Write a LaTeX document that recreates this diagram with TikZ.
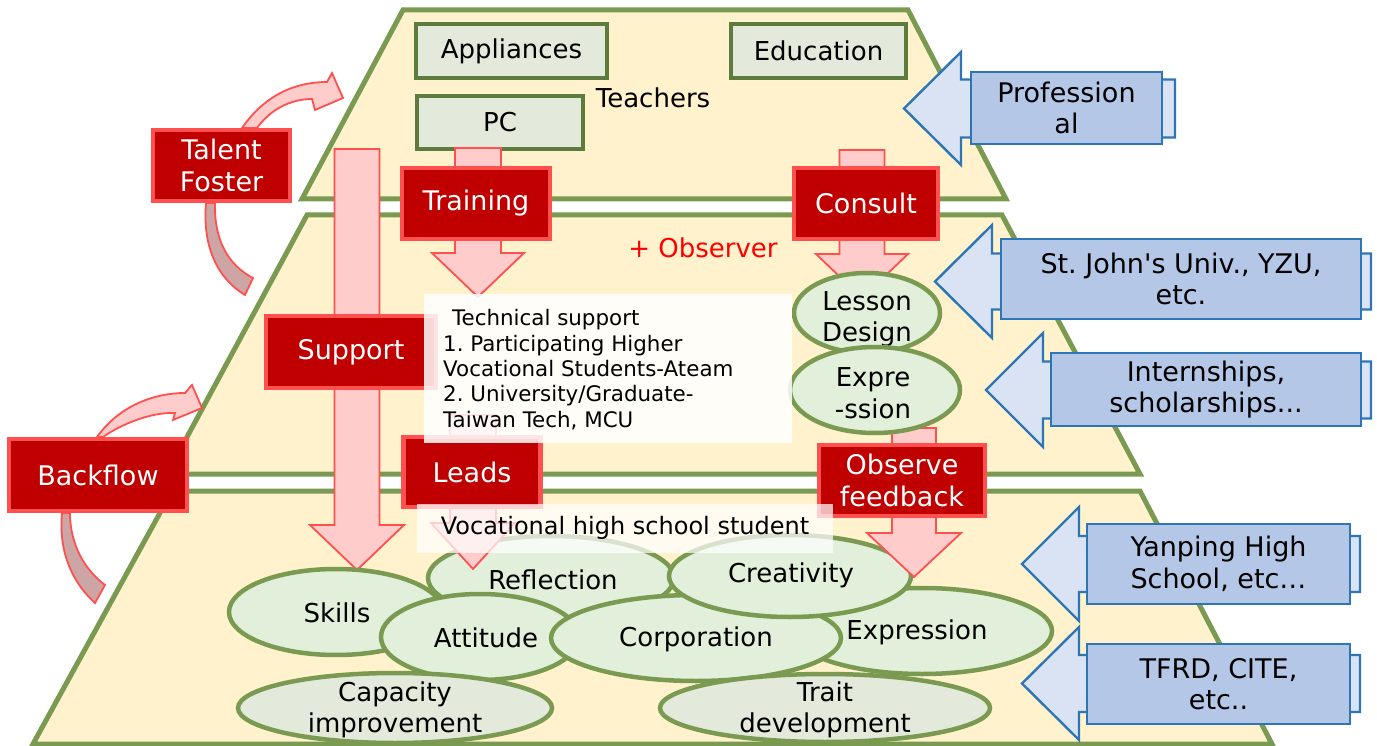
\documentclass[tikz,border=0pt]{standalone}
\usepackage{fontspec}
\newfontfamily\dvs{DejaVu Sans}
\setmainfont{DejaVu Sans}
\frenchspacing
\usetikzlibrary{shapes.geometric}
\definecolor{tierfill}{HTML}{FFF2CC}
\definecolor{tierline}{HTML}{7A9A52}
\definecolor{gbfill}{HTML}{E4EADB}
\definecolor{gbline}{HTML}{5E7B3E}
\definecolor{redfill}{HTML}{C00000}
\definecolor{redline}{HTML}{FF5050}
\definecolor{pinkfill}{HTML}{FFCCCC}
\definecolor{darkpink}{HTML}{CDA5A5}
\definecolor{blueline}{HTML}{2E75B6}
\definecolor{bluelight}{HTML}{DAE3F3}
\definecolor{blueboxfill}{HTML}{B4C7E7}
\definecolor{ellfill}{HTML}{E2EFDA}
\definecolor{ellfillb}{HTML}{E4EADB}
\newcommand\fA{\dvs\frenchspacing\fontsize{26}{31.5}\selectfont}
\newcommand\fR{\dvs\frenchspacing\fontsize{27}{31.5}\selectfont}
\newcommand\fB{\dvs\frenchspacing\fontsize{21.4}{25.2}\selectfont}
\newcommand\fC{\dvs\frenchspacing\fontsize{24}{28}\selectfont}
\newcommand\pinkdown[6]{%
  \draw[pinkarrow] (#1-#5,#2) -- (#1+#5,#2) -- (#1+#5,#3) -- (#1+#6,#3) -- (#1,#4) -- (#1-#6,#3) -- (#1-#5,#3) -- cycle;}
\newcommand\bluearr[6]{%
  \draw[bluearrow] (#1,#2) -- (#3,#2-#4) -- (#3,#2-#5) -- (#6,#2-#5) -- (#6,#2+#5) -- (#3,#2+#5) -- (#3,#2+#4) -- cycle;}
\tikzset{
  tier/.style={fill=tierfill, draw=tierline, line width=5pt, line join=miter},
  wh/.style 2 args={minimum width=#1pt, minimum height=#2pt},
  greenbox/.style={draw=gbline, fill=gbfill, line width=4.5pt, font=\fA, inner sep=0pt},
  redbox/.style={draw=redline, fill=redfill, line width=4.5pt, text=white, font=\fR, align=center, inner sep=0pt},
  pinkarrow/.style={fill=pinkfill, draw=redline, line width=1.8pt, line join=miter},
  backarrow/.style={fill=darkpink, draw=redline, line width=1.8pt, line join=miter},
  bluearrow/.style={fill=bluelight, draw=blueline, line width=2.4pt, line join=miter},
  bluebox/.style={fill=blueboxfill, draw=blueline, line width=2.4pt, font=\fR, align=center, inner sep=0pt},
  ell/.style={ellipse, draw=tierline, fill=ellfill, line width=4.5pt, inner sep=0pt},
  ellb/.style={ell, fill=ellfillb},
  etext/.style={font=\fA, align=center, inner sep=0pt},
  plain/.style={font=\fA, inner sep=0pt},
  tsline/.style={font=\fB, anchor=base west, inner sep=0pt},
  veil/.style={fill=white, draw=none, inner sep=0pt},
}
\begin{document}
\begin{tikzpicture}[x=1pt,y=-1pt]
\useasboundingbox (0,0) rectangle (1377,746);
% tiers
\draw[tier] (403,10) -- (908,10) -- (1006,199) -- (302,199) -- cycle;
\draw[tier] (307,215) -- (1002,215) -- (1140,474) -- (167,474) -- cycle;
\draw[tier] (172,491) -- (1140,491) -- (1272,744) -- (33,744) -- cycle;
% top tier boxes
\node[greenbox, wh={191}{54}] (appl) at (511.5,51) {Appliances};
\node[greenbox, wh={175}{54}] (educ) at (818.5,51) {Education};
\node[greenbox, wh={166}{53}] (pc) at (500,122.5) {PC};
\node[plain] (teach) at (653,98) {Teachers};
% pink arrows
\pinkdown{357}{149}{525}{570}{22.5}{47}
\pinkdown{478}{148}{253}{297}{23}{46}
\pinkdown{862}{150}{254}{298}{22.5}{46}
% curved arrows
\draw[backarrow] (206,203) .. controls (202,250) and (220,280) .. (245,295) -- (253,278) .. controls (228,265) and (214,240) .. (215,203) -- cycle;
\draw[pinkarrow] (242,128) .. controls (265,95) and (295,82) .. (327,82) -- (332,73) -- (343,98) -- (315,110) -- (312,99) .. controls (290,99) and (270,110) .. (257,128) -- cycle;
\draw[backarrow] (62,513) .. controls (58,555) and (75,585) .. (95,603) -- (105,585) .. controls (85,570) and (70,545) .. (70,513) -- cycle;
\draw[pinkarrow] (97,437) .. controls (120,405) and (155,393) .. (185,393) -- (192,385) -- (202,408) -- (173,420) -- (175,413) .. controls (150,412) and (120,425) .. (103,437) -- cycle;
% red boxes
\node[redbox, wh={137}{71}] (talent) at (221.5,165.5) {Talent\\Foster};
\node[redbox, wh={148}{71}] (train) at (476,203.5) {Training};
\node[redbox, wh={144}{71}] (consult) at (866,203.5) {Consult};
\node[redbox, wh={170}{72}] (support) at (351,352) {Support};
\node[redbox, wh={178}{72}] (backflow) at (98,475) {Backflow};
\node[font=\fA, text={red}, inner sep=0pt] (observer) at (703,248) {+ Observer};
% blue arrows and boxes
\bluearr{904}{108.5}{961}{56.5}{29}{1175}
\node[bluebox, wh={191}{72}] (prof) at (1066.5,108) {Profession\\al};
\bluearr{935}{281.5}{992}{56.5}{28}{1371}
\node[bluebox, wh={360}{80}] (stjohn) at (1181,279) {St. John's Univ., YZU,\\etc.};
\bluearr{986}{390}{1043}{57}{28.5}{1371}
\node[bluebox, wh={310}{73}] (intern) at (1206,389.5) {Internships,\\scholarships...};
\bluearr{1022}{564}{1079}{57}{28}{1360}
\node[bluebox, wh={263}{80}] (yanping) at (1218.5,564) {Yanping High\\School, etc…};
\bluearr{1022}{683.5}{1079}{56.5}{28.5}{1360}
\node[bluebox, wh={263}{80}] (tfrd) at (1218.5,684) {TFRD, CITE,\\etc..};
% bottom ellipses
\node[ell, wh={260}{86}] (expr) at (922,631) {};
\node[etext] (expr-t) at (917,632) {Expression};
\node[ell, wh={214}{86}] (skills) at (336,612) {};
\node[etext] (skills-t) at (337,613) {Skills};
\node[ell, wh={246}{84}] (refl) at (551,578) {};
\node[etext] (refl-t) at (553,580) {Reflection};
\node[ell, wh={198}{86}] (att) at (480,637) {};
\node[etext] (att-t) at (486,638) {Attitude};
\node[ell, wh={290}{86}] (corp) at (696,638) {};
\node[etext] (corp-t) at (696,639) {Corporation};
\node[ell, wh={242}{82}] (creat) at (790,576) {};
\node[etext] (creat-t) at (791,575) {Creativity};
\node[ellb, wh={314}{70}] (cap) at (395,708) {};
\node[etext] (cap-t) at (395,710) {Capacity\\improvement};
\node[ellb, wh={330}{68}] (trait) at (825,708) {};
\node[etext] (trait-t) at (825,710) {Trait\\development};
% lower pink arrows
\pinkdown{473}{415}{523}{569}{23}{42}
\pinkdown{914}{428}{533}{577}{22}{47}
% middle ellipses
\node[ell, wh={146}{80}] (lesson) at (867,313) {};
\node[etext] (lesson-t) at (867,319) {Lesson\\Design};
\node[ell, wh={170}{86}] (expre) at (875,390) {};
\node[etext] (expre-t) at (873,393) {Expre\\-ssion};
% red boxes lower
\node[redbox, wh={137}{70}] (leads) at (472,472) {Leads};
\node[redbox, wh={166}{71}] (obsfb) at (902,480.5) {Observe\\feedback};
% technical support veil
\fill[veil, fill opacity=0.85] (424,294) rectangle (792,443);
\node[tsline] (ts1) at (452,326) {Technical support};
\node[tsline] (ts2) at (443,351) {1. Participating Higher};
\node[tsline] (ts3) at (443,376) {Vocational Students-Ateam};
\node[tsline] (ts4) at (443,401) {2. University/Graduate-};
\node[tsline] (ts5) at (443,427) {Taiwan Tech, MCU};
% vocational veil
\fill[veil, fill opacity=0.72] (417,504) rectangle (833,553);
\node[font=\fC, inner sep=0pt] (voc) at (625,528) {Vocational high school student};
\end{tikzpicture}
\end{document}
